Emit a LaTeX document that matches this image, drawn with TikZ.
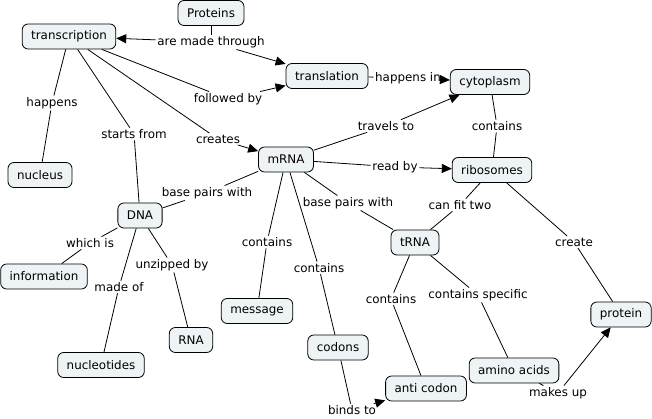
\documentclass[tikz,border=0pt]{standalone}
\usepackage{fontspec}
\setmainfont{DejaVu Sans}
\usetikzlibrary{arrows.meta}
\definecolor{conceptfill}{HTML}{EEF3F6}
\tikzset{
  concept/.style={draw, line width=0.8pt, fill=conceptfill, rounded corners=6pt,
    inner xsep=9pt, inner ysep=0pt, minimum height=25pt},
  linkword/.style={inner sep=1.5pt, fill=white},
  link/.style={line width=0.8pt},
  linkarrow/.style={line width=0.8pt, -{Triangle[length=10pt,width=9pt]}}
}
\begin{document}
\begin{tikzpicture}[x=1pt, y=-1pt, font=\fontsize{11.9}{13}\selectfont]
  \useasboundingbox (0,0) rectangle (652,419);
  % Concepts
  \node[concept] (proteins) at (211,13) {Proteins};
  \node[concept] (transcription) at (69,36.5) {transcription};
  \node[concept] (translation) at (327,76) {translation};
  \node[concept] (cytoplasm) at (490,82) {cytoplasm};
  \node[concept] (ribosomes) at (492,170) {ribosomes};
  \node[concept] (mrna) at (286,159.5) {mRNA};
  \node[concept] (nucleus) at (40,175) {nucleus};
  \node[concept] (dna) at (140,215.5) {DNA};
  \node[concept] (information) at (44,276.5) {information};
  \node[concept] (nucleotides) at (101,365) {nucleotides};
  \node[concept] (rna) at (191,340) {RNA};
  \node[concept] (message) at (257,311) {message};
  \node[concept] (codons) at (338,347.5) {codons};
  \node[concept] (anticodon) at (426,388.5) {anti codon};
  \node[concept] (trna) at (415,242.5) {tRNA};
  \node[concept] (aminoacids) at (514,370.5) {amino acids};
  \node[concept] (protein) at (621,314.5) {protein};
  % Linking words
  \node[linkword] (madethrough) at (211,42) {are made through};
  \node[linkword] (happens) at (52,103) {happens};
  \node[linkword] (startsfrom) at (134,134) {starts from};
  \node[linkword] (followedby) at (228,99) {followed by};
  \node[linkword] (creates) at (218,139) {creates};
  \node[linkword] (travelsto) at (386,126) {travels to};
  \node[linkword] (happensin) at (408,78) {happens in};
  \node[linkword] (cytocontains) at (497,126) {contains};
  \node[linkword] (readby) at (395,167) {read by};
  \node[linkword] (canfittwo) at (460,205) {can fit two};
  \node[linkword] (create) at (574,242) {create};
  \node[linkword] (pairsdna) at (207,193) {base pairs with};
  \node[linkword] (pairstrna) at (348,203) {base pairs with};
  \node[linkword] (msgcontains) at (267,242) {contains};
  \node[linkword] (codcontains) at (319,268) {contains};
  \node[linkword] (whichis) at (90,243) {which is};
  \node[linkword] (madeof) at (119,287) {made of};
  \node[linkword] (unzippedby) at (172,265) {unzipped by};
  \node[linkword] (trnacontains) at (391,299) {contains};
  \node[linkword] (specific) at (478,295) {contains specific};
  \node[linkword] (makesup) at (558,393) {makes up};
  \node[linkword] (bindsto) at (352,410) {binds to};
  % Connectors
  \draw[link] (proteins) -- (madethrough);
  \draw[linkarrow] (madethrough) -- (transcription);
  \draw[linkarrow] (madethrough) -- (translation);
  \draw[link] (transcription) -- (happens) -- (nucleus);
  \draw[link] (transcription) -- (startsfrom) -- (dna);
  \draw[link] (transcription) -- (followedby);
  \draw[linkarrow] (followedby) -- (translation);
  \draw[link] (transcription) -- (creates);
  \draw[linkarrow] (creates) -- (mrna);
  \draw[link] (translation) -- (happensin);
  \draw[linkarrow] (happensin) -- (cytoplasm);
  \draw[link] (mrna) -- (travelsto);
  \draw[linkarrow] (travelsto) -- (cytoplasm);
  \draw[link] (mrna) -- (readby);
  \draw[linkarrow] (readby) -- (ribosomes);
  \draw[link] (cytoplasm) -- (cytocontains) -- (ribosomes);
  \draw[link] (ribosomes) -- (canfittwo) -- (trna);
  \draw[link] (ribosomes) -- (create) -- (protein);
  \draw[link] (mrna) -- (pairsdna) -- (dna);
  \draw[link] (mrna) -- (pairstrna) -- (trna);
  \draw[link] (mrna) -- (msgcontains) -- (message);
  \draw[link] (mrna) -- (codcontains) -- (codons);
  \draw[link] (dna) -- (whichis) -- (information);
  \draw[link] (dna) -- (madeof) -- (nucleotides);
  \draw[link] (dna) -- (unzippedby) -- (rna);
  \draw[link] (trna) -- (trnacontains) -- (anticodon);
  \draw[link] (trna) -- (specific) -- (aminoacids);
  \draw[link] (aminoacids) -- (makesup);
  \draw[linkarrow] (makesup) -- (protein);
  \draw[link] (codons) -- (bindsto);
  \draw[linkarrow] (bindsto) -- (anticodon);
\end{tikzpicture}
\end{document}
